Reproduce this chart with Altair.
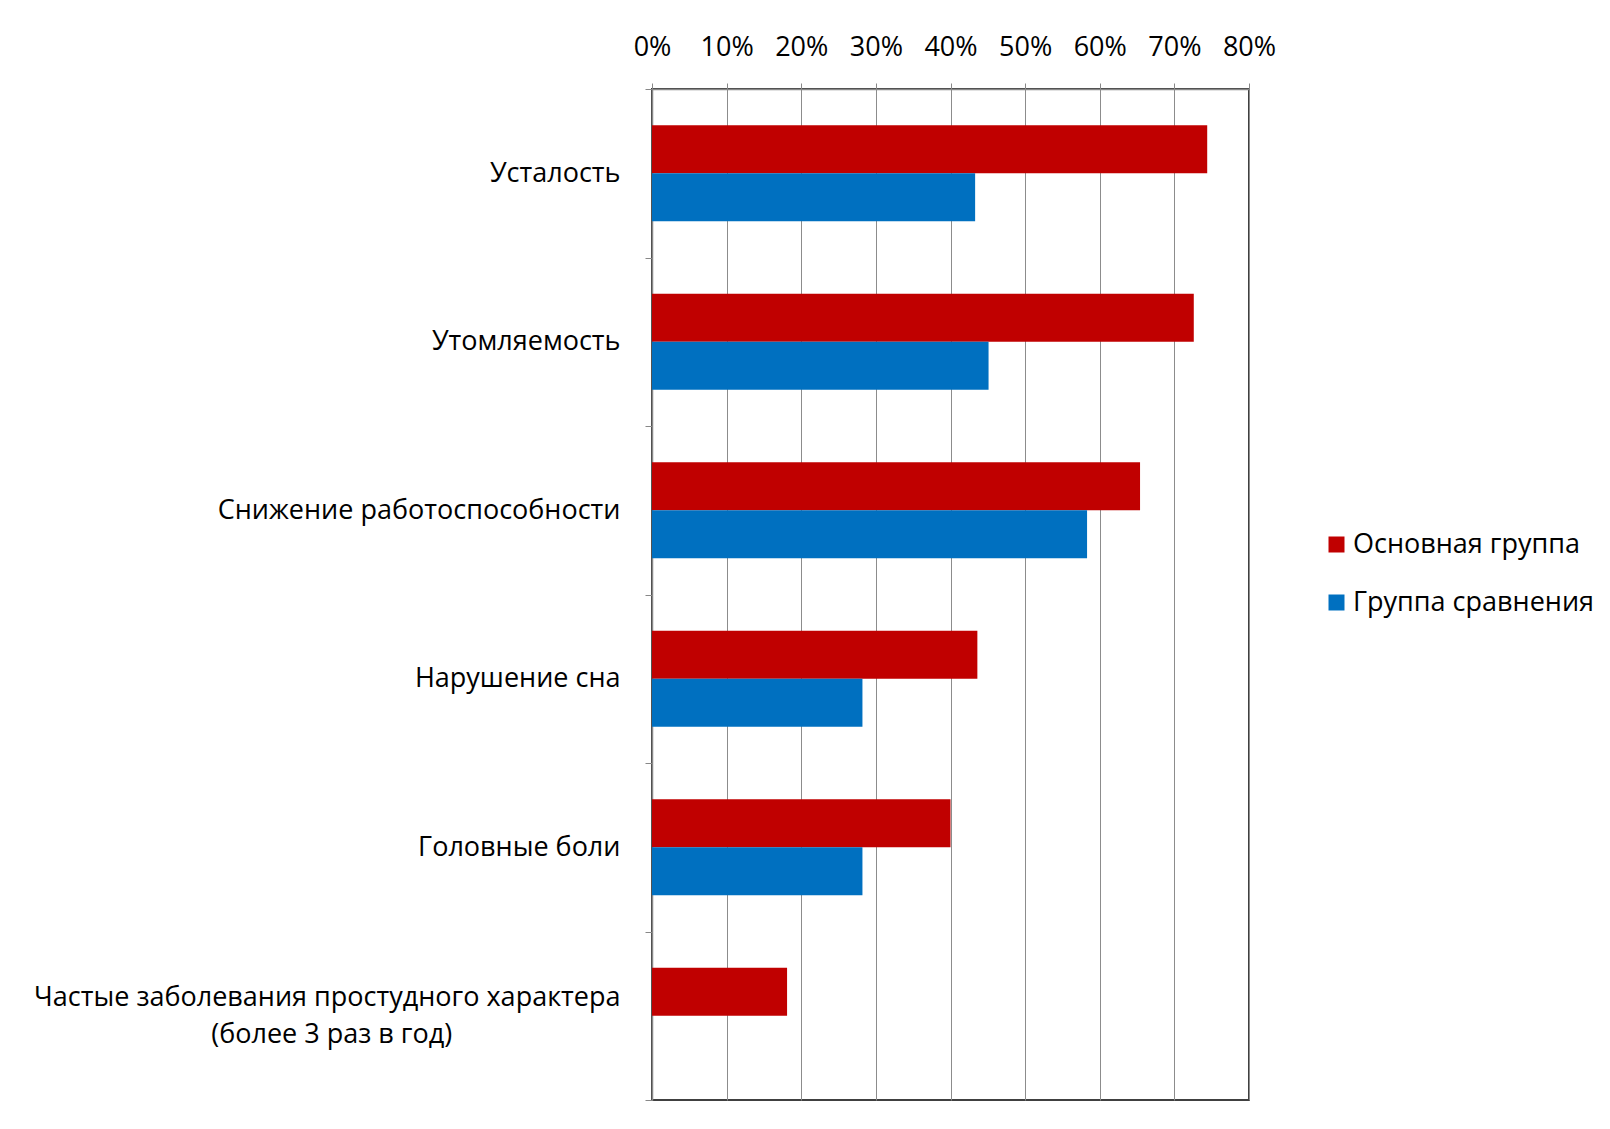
import altair as alt
import pandas as pd

categories = [
    "Усталость",
    "Утомляемость",
    "Снижение работоспособности",
    "Нарушение сна",
    "Головные боли",
    "Частые заболевания простудного характера\n(более 3 раз в год)",
]
series = ["Основная группа", "Группа сравнения"]
main_group = [0.744, 0.726, 0.654, 0.436, 0.400, 0.181]
comparison_group = [0.433, 0.451, 0.583, 0.282, 0.282, 0.0]
x_ticks = [0, 0.1, 0.2, 0.3, 0.4, 0.5, 0.6, 0.7, 0.8]
colors = ["#C00000", "#0070C0"]

rows = []
for c, a, b in zip(categories, main_group, comparison_group):
    rows.append({"category": c, "group": series[0], "value": a})
    rows.append({"category": c, "group": series[1], "value": b})
df = pd.DataFrame(rows)

FONT = "Open Sans"
FS = 27
BAR_H = 48

zw = "\u200b"
pad = "\u00a0" * 24 + zw
label_expr = (
    "indexof(datum.label, '\\n') >= 0 ? "
    "[split(datum.label, '\\n')[0], '" + zw + "', split(datum.label, '\\n')[1] + '" + pad + "']"
    " : ['" + zw + "', datum.label]"
)

y_enc = alt.Y(
    "category:N",
    sort=categories,
    scale=alt.Scale(paddingInner=0, paddingOuter=0),
    axis=alt.Axis(
        title=None,
        tickBand="extent",
        tickSize=7,
        tickColor="#888888",
        domainColor="#888888",
        domainWidth=1.5,
        labelPadding=25,
        labelOffset=-18.5,
        labelLineHeight=18.5,
        labelFont=FONT,
        labelFontSize=FS,
        labelColor="#000000",
        labelLimit=0,
        labelExpr=label_expr,
        grid=False,
    ),
)

x_enc = alt.X(
    "value:Q",
    scale=alt.Scale(domain=[0, 0.8], nice=False),
    axis=alt.Axis(
        orient="top",
        title=None,
        format=".0%",
        values=x_ticks,
        labelOverlap=False,
        labelFlush=False,
        tickSize=6,
        tickColor="#888888",
        domainColor="#888888",
        domainWidth=1.5,
        gridColor="#8c8c8c",
        gridWidth=1,
        gridOpacity=1,
        labelPadding=22,
        labelFont=FONT,
        labelFontSize=FS,
        labelColor="#000000",
    ),
)

color_enc = alt.Color(
    "group:N",
    sort=series,
    scale=alt.Scale(domain=series, range=colors),
    legend=alt.Legend(
        title=None,
        orient="none",
        legendX=671,
        legendY=442,
        symbolType="square",
        symbolSize=256,
        symbolStrokeWidth=0,
        labelFont=FONT,
        labelFontSize=FS,
        labelColor="#000000",
        labelLimit=500,
        labelOffset=3,
        rowPadding=30,
    ),
)

base = alt.Chart(df).encode(y=y_enc, x=x_enc, color=color_enc)

red_bars = base.transform_filter(alt.datum.group == series[0]).mark_bar(
    height=BAR_H, yOffset=-BAR_H / 2
)
blue_bars = base.transform_filter(alt.datum.group == series[1]).mark_bar(
    height=BAR_H, yOffset=BAR_H / 2
)

chart = (
    alt.layer(red_bars, blue_bars)
    .properties(
        width=597,
        height=1011,
        autosize=alt.AutoSizeParams(type="none"),
        padding={"left": 644, "top": 81, "right": 350, "bottom": 18},
        background="white",
    )
    .configure_view(stroke="#404040", strokeWidth=2)
)

chart.save("out.html", embed_options={"renderer": "svg", "actions": False})
